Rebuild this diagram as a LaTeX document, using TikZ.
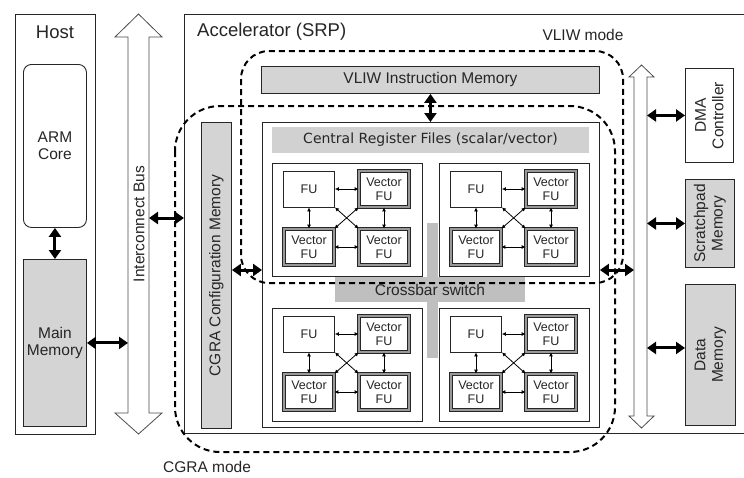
\documentclass[tikz,border=0pt]{standalone}
\usepackage{fontspec}
\setmainfont{Liberation Sans}
\newfontfamily\crffont{DejaVu Sans}
\usetikzlibrary{positioning, arrows.meta}

\tikzset{
  box/.style={draw=black!85, line width=0.9pt, fill=white, inner sep=0pt},
  graybox/.style={box, fill=black!17},
  lbl/.style={font=\fontsize{15.5}{17.5}\selectfont, text=black!85, inner sep=0pt},
  fu/.style={draw=black!85, line width=0.8pt, fill=white, minimum width=51pt, minimum height=36pt, inner sep=0pt, text=black!85, font=\fontsize{12.5}{14}\selectfont},
  vfu/.style={draw=black!85, line width=0.7pt, double=black!40, double distance=2pt, fill=white, minimum width=50pt, minimum height=36pt, inner sep=0pt, align=center, text=black!85, font=\fontsize{12.5}{14}\selectfont},
  bigarrow/.style={<->, >={Triangle[length=9pt,width=12pt]}, line width=3pt},
  smallarrow/.style={<->, >={Latex[length=4pt,width=4pt]}, line width=0.8pt},
  modeline/.style={line width=2pt, dash pattern=on 6pt off 4pt},
  bus/.style={draw=black!70, line width=0.8pt, fill=white},
}

\begin{document}
\begin{tikzpicture}[x=1pt, y=-1pt]
    \useasboundingbox (0,0) rectangle (744,477);

    \node[box, anchor=north west, minimum width=80pt, minimum height=420pt] (host) at (15,14) {};
    \node[lbl, font=\fontsize{18.5}{20}\selectfont] (hosttitle) at (55,32) {Host};
    \node[box, lbl, rounded corners=8pt, anchor=north west, minimum width=63pt, minimum height=163pt, align=center] (arm) at (23,64) {ARM\\Core};
    \node[graybox, lbl, anchor=north west, minimum width=63pt, minimum height=167pt, align=center] (mainmem) at (23,259) {Main\\Memory};
    \draw[bigarrow] (arm) -- (mainmem);

    \draw[bus] (128,37) -- (115,37) -- (138.5,14) -- (162,37) -- (149,37) -- (149,413) -- (162,413) -- (138.5,434) -- (115,413) -- (128,413) -- cycle;
    \coordinate (busw) at (128,341);
    \coordinate (buse) at (149,218);
    \node[lbl, rotate=90] (bustext) at (139,224) {Interconnect Bus};
    \draw[bigarrow] (mainmem.east) -- (mainmem.east -| busw);

    \node[box, anchor=north west, minimum width=562pt, minimum height=419pt] (acc) at (184,14) {};
    \node[lbl, font=\fontsize{18.5}{20}\selectfont, anchor=west] (acctitle) at (197,32) {Accelerator (SRP)};
    \draw[bigarrow] (buse) -- (buse -| acc.west);

    \node[graybox, anchor=north west, minimum width=30pt, minimum height=306pt] (cfg) at (201,122) {};
    \node[lbl, rotate=90] (cfgtext) at (cfg.center) {CGRA Configuration Memory};

    \node[graybox, lbl, anchor=north west, minimum width=338pt, minimum height=27pt] (vliw) at (261,66) {VLIW Instruction Memory};
    \node[box, anchor=north west, minimum width=337pt, minimum height=305pt] (cgra) at (262,122) {};
    \draw[bigarrow] (vliw.south) -- (vliw.south |- cgra.north);

    \node[fill=black!18, minimum width=317pt, minimum height=26pt, inner sep=0pt, text=black!85, font=\crffont\fontsize{14}{16}\selectfont] (crf) at (430.5,140) {Central Register Files (scalar/vector)};

    \fill[black!25] (427,223) rectangle (438,358);
    \node[lbl, fill=black!25, minimum width=190pt, minimum height=25pt] (xbar) at (430,289.5) {Crossbar switch};

    \foreach \cx/\cy/\n in {272/163/a, 439/163/b, 272/308/c, 439/308/d} {
        \node[box, anchor=north west, minimum width=150pt, minimum height=113pt] (pe\n) at (\cx,\cy) {};
        \node[fu] (fu\n) at (\cx+37,\cy+26) {FU};
        \node[vfu] (vtr\n) at (\cx+112,\cy+26) {Vector\\FU};
        \node[vfu] (vbl\n) at (\cx+37,\cy+84) {Vector\\FU};
        \node[vfu] (vbr\n) at (\cx+112,\cy+84) {Vector\\FU};
        \draw[smallarrow] (fu\n) -- (vtr\n);
        \draw[smallarrow] (fu\n) -- (vbl\n);
        \draw[smallarrow] (vtr\n) -- (vbr\n);
        \draw[smallarrow] (vbl\n) -- (vbr\n);
        \draw[smallarrow] (fu\n.south east) -- (vbr\n.north west);
        \draw[smallarrow] (vtr\n.south west) -- (vbl\n.north east);
    }

    \draw[bus] (634,77) -- (629,77) -- (641.5,65) -- (654,77) -- (647,77) -- (647,416) -- (654,416) -- (641.5,428) -- (629,416) -- (634,416) -- cycle;
    \coordinate (rbusw) at (634,270);
    \coordinate (rbuse) at (647,0);
    \coordinate (midrow) at (0,270);
    \draw[bigarrow] (cfg.east |- midrow) -- (cgra.west |- midrow);
    \draw[bigarrow] (cgra.east |- midrow) -- (rbusw);

    \node[box, anchor=north west, minimum width=48pt, minimum height=94pt] (dma) at (685,68) {};
    \node[lbl, rotate=90, align=center] (dmatext) at (dma.center) {DMA\\Controller};
    \node[graybox, anchor=north west, minimum width=49pt, minimum height=88pt] (scratch) at (685,179) {};
    \node[lbl, rotate=90, align=center] (scratchtext) at (scratch.center) {Scratchpad\\Memory};
    \node[graybox, anchor=north west, minimum width=50pt, minimum height=141pt] (data) at (685,284) {};
    \node[lbl, rotate=90, align=center] (datatext) at (data.center) {Data\\Memory};
    \coordinate (datain) at ([yshift=7pt]data.west);
    \draw[bigarrow] (dma.west -| rbuse) -- (dma.west);
    \draw[bigarrow] (scratch.west -| rbuse) -- (scratch.west);
    \draw[bigarrow] (datain -| rbuse) -- (datain);

    \draw[modeline, rounded corners=28pt] (241,51) rectangle (623,283);
    \draw[modeline, rounded corners=45pt] (175,106) rectangle (615,452);
    \node[lbl] (vliwmode) at (583,35) {VLIW mode};
    \node[lbl] (cgramode) at (207,467) {CGRA mode};
\end{tikzpicture}
\end{document}
